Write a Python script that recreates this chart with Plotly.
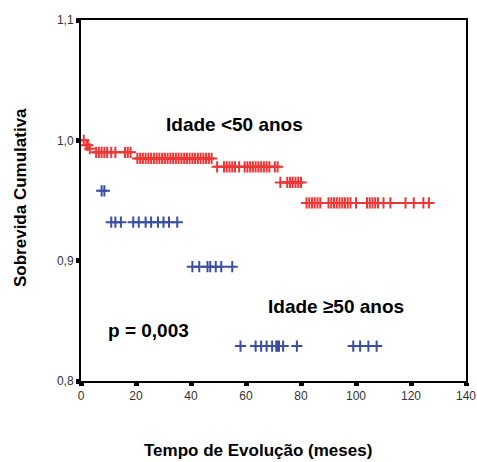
import plotly.graph_objects as go

# ---- data ----
# Idade <50 anos : step levels and the month each level starts
red_event_times = [0, 1.5, 2.8, 4.0, 19.5, 48.5, 72.0, 80.5]
red_survival = [1.000, 0.996, 0.993, 0.990, 0.985, 0.978, 0.965, 0.948]
red_censored = [1.0, 2.0, 2.5, 3.2,
                5.5, 6.5, 7.5, 8.5, 9.5, 11.0, 12.5, 16.0, 17.0, 18.0,
                20.5, 21.5, 22.5, 23.5, 24.5, 25.5, 26.5, 27.5, 28.5, 29.5,
                30.5, 31.5, 32.5, 33.5, 34.5, 35.5, 36.5, 37.5, 38.5, 39.5,
                40.5, 41.5, 42.5, 43.5, 44.5, 45.5, 46.5, 47.5,
                49.5, 52.0, 53.0, 54.0, 55.0, 56.0, 57.5, 59.5, 60.5, 61.5,
                62.5, 63.5, 64.5, 65.5, 66.5, 67.5, 68.5, 70.5, 71.5,
                72.5, 75.0, 76.0, 77.0, 78.0, 79.0, 80.0,
                82.0, 83.0, 84.0, 85.0, 86.0, 87.0, 90.0, 91.0, 92.0, 93.0,
                94.0, 95.0, 96.0, 97.0, 98.0, 100.0, 104.0, 105.0, 106.0,
                107.0, 108.0, 110.0, 112.5, 118.0, 121.0, 124.5, 126.5]

# Idade >=50 anos
blue_event_times = [0, 7.0, 10.0, 38.0, 57.0]
blue_survival = [1.000, 0.958, 0.932, 0.895, 0.829]
blue_censored = [7.5, 8.5,
                 11.0, 12.5, 14.5, 19.0, 21.0, 23.5, 25.5, 28.0, 30.0, 32.0, 35.0,
                 40.5, 43.0, 46.0, 47.0, 49.0, 51.0, 55.0,
                 58.0, 63.5, 65.5, 67.5, 69.5, 71.0, 71.5, 72.0, 73.5, 78.5,
                 99.0, 101.5, 104.5, 107.5]

x_ticks = [0, 20, 40, 60, 80, 100, 120, 140]
y_ticks = [0.8, 0.9, 1.0, 1.1]

RED = "#ee3636"
BLUE = "#3a4fa3"


def surv_at(t, times, surv):
    s = surv[0]
    for tt, ss in zip(times, surv):
        if t >= tt:
            s = ss
    return s


def horizontal_segments(censored, times, surv):
    xs, ys = [], []
    for tt, ss in zip(times, surv):
        marks = [c for c in censored if surv_at(c, times, surv) == ss]
        if not marks:
            continue
        xs += [tt, max(marks), None]
        ys += [ss, ss, None]
    return xs, ys


fig = go.Figure()

rx, ry = horizontal_segments(red_censored, red_event_times, red_survival)
fig.add_trace(go.Scatter(x=rx, y=ry, mode="lines",
                         line=dict(color=RED, width=2), hoverinfo="skip"))
fig.add_trace(go.Scatter(
    x=red_censored,
    y=[surv_at(t, red_event_times, red_survival) for t in red_censored],
    mode="markers",
    marker=dict(symbol="cross-thin", size=8, line=dict(color=RED, width=2)),
))
fig.add_trace(go.Scatter(
    x=blue_censored,
    y=[surv_at(t, blue_event_times, blue_survival) for t in blue_censored],
    mode="markers",
    marker=dict(symbol="cross-thin", size=8, line=dict(color=BLUE, width=2)),
))

FONT = "Liberation Sans, Arial, sans-serif"

W, H = 477, 462
L, T = 81, 20
Rp, Bp = 466, 381     # plot right / bottom edge in page px
R, B = W - Rp, H - Bp

fig.update_layout(
    width=W, height=H,
    margin=dict(l=L, r=R, t=T, b=B, autoexpand=False),
    paper_bgcolor="white", plot_bgcolor="white",
    showlegend=False,
    separators=",.",
    font=dict(family=FONT, size=12, color="#333333"),
    xaxis=dict(range=[0, 140], tickvals=x_ticks, showgrid=False, zeroline=False,
               showline=True, linecolor="black", linewidth=2, mirror=True,
               ticks="outside", ticklen=3, tickwidth=5, tickcolor="black",
               tickfont=dict(size=12, color="#333333"), automargin=False),
    yaxis=dict(range=[0.8, 1.1], tickvals=y_ticks, tickformat=".1f",
               showgrid=False, zeroline=False,
               showline=True, linecolor="black", linewidth=2, mirror=True,
               ticks="outside", ticklen=3, tickwidth=5, tickcolor="black",
               tickfont=dict(size=12, color="#333333"), automargin=False),
)

# text labels given in page pixel coordinates of the reference
labels = [
    ("<b>Idade <50 anos</b>", 234, 124, 0, 19),
    ("<b>Idade ≥50 anos</b>", 336, 306, 0, 19),
    ("<b>p = 0,003</b>", 148, 330, 0, 19),
    ("<b>Sobrevida Cumulativa</b>", 21, 198, -90, 17),
    ("<b>Tempo de Evolução (meses)</b>", 258, 450, 0, 17),
]
pw, ph = W - L - R, H - T - B
for text, px, py, ang, fs in labels:
    fig.add_annotation(text=text, xref="paper", yref="paper",
                       x=(px - L) / pw, y=1 - (py - T) / ph,
                       xanchor="center", yanchor="middle", textangle=ang,
                       showarrow=False,
                       font=dict(size=fs, color="black", family=FONT))

fig.write_html(
    "out.html",
    config={"displayModeBar": False},
    post_script="document.body.style.margin='0';document.body.style.overflow='hidden';",
)
